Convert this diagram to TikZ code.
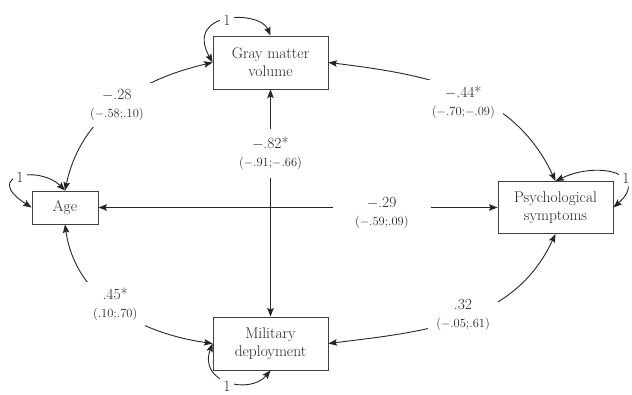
\documentclass[tikz,border=0pt]{standalone}
\usetikzlibrary{arrows.meta}
\begin{document}
\begin{tikzpicture}[x=1pt,y=1pt,
  every node/.style={font=\fontsize{15.5}{18}\selectfont, text=black!85},
  var/.style={draw=black!75, line width=0.9pt, fill=white, align=center, inner sep=0pt,
    minimum width=115pt, minimum height=53pt},
  tip/.tip={Stealth[length=8.5pt,width=6.5pt,inset=1.5pt]},
  conn/.style={draw=black!85, line width=0.9pt, tip-tip},
  coef/.style={fill=white, align=center, inner xsep=8pt, inner ysep=6pt},
  one/.style={fill=white, inner sep=3pt}
]
\newcommand{\ci}[1]{{\fontsize{12.5}{15}\selectfont #1}}
\useasboundingbox (0,0) rectangle (632,395);

\node[var] (gm) at (270.5,332.5) {Gray matter\\volume};
\node[var, minimum width=66pt, minimum height=33pt] (age) at (65,187.5) {Age};
\node[var, minimum height=52pt] (ps) at (555.5,187.5) {Psychological\\symptoms};
\node[var] (md) at (270.5,51.5) {Military\\deployment};

% straight connectors
\draw[conn] (age) -- node[coef, pos=0.71, yshift=-5pt, minimum width=98pt] (lh)
  {$-$.29\\\ci{($-$.59;.09)}} (ps);
\draw[conn] (gm) -- node[coef, pos=0.28, minimum height=49pt] (lv)
  {$-$.82*\\\ci{($-$.91;$-$.66)}} (md);

% curved connectors
\draw[conn] (age.north) to[out=78,in=193] node[coef] (l1)
  {$-$.28\\\ci{($-$.58;.10)}} (gm.west);
\draw[conn] (gm.east) to[out=-7,in=115] node[coef, yshift=-10pt] (l2)
  {$-$.44*\\\ci{($-$.70;$-$.09)}} (ps.north);
\draw[conn] (age.south) to[out=-82,in=172] node[coef, yshift=3pt] (l3)
  {.45*\\\ci{(.10;.70)}} (md.west);
\draw[conn] (md.east) to[out=7,in=245] node[coef, yshift=3pt] (l4)
  {.32\\\ci{($-$.05;.61)}} (ps.south);

% variances
\draw[conn] (age.north) .. controls (40,230) and (-19,220) .. (age.west);
\node[one] (a1) at (20,218) {1};
\draw[conn] (gm.north) .. controls (260,385) and (184,384) .. (gm.west);
\node[one] (g1) at (227,375) {1};
\draw[conn] (ps.north) .. controls (600,235) and (650,220) .. (ps.east);
\node[one] (p1) at (626,217) {1};
\draw[conn] (md.west) .. controls (198,12) and (250,0) .. (md.south);
\node[one] (m1) at (227,9) {1};
\end{tikzpicture}
\end{document}
